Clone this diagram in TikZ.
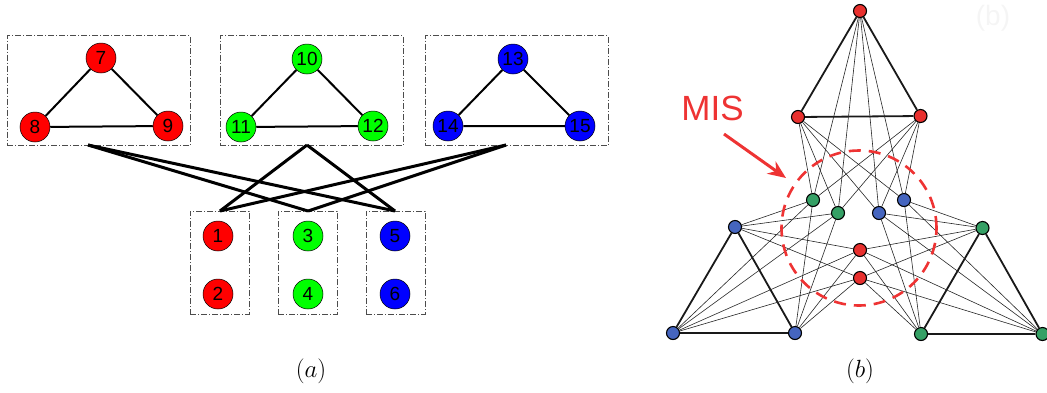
\documentclass[tikz,border=0pt]{standalone}
\usepackage{fontspec}
\newfontfamily\arialf{Liberation Sans}
\usetikzlibrary{arrows.meta}
\definecolor{nred}{HTML}{E8302E}
\definecolor{ngreen}{HTML}{35A065}
\definecolor{nblue}{HTML}{4565BF}
\definecolor{misred}{HTML}{EE3333}
\begin{document}
\begin{tikzpicture}[x=1pt,y=-1pt,
  grp/.style={draw=black!70, line width=0.9pt, dash pattern=on 6pt off 2pt on 1pt off 2pt, inner sep=0pt, rectangle},
  vnode/.style={circle, draw=black, line width=0.5pt, minimum size=30pt, inner sep=0pt, font=\arialf\fontsize{19}{19}\selectfont},
  tri/.style={line width=2pt, black},
  cross/.style={line width=3pt, black},
  snode/.style={circle, draw=black, line width=1.1pt, minimum size=13pt, inner sep=0pt},
  thick edge/.style={line width=1.8pt, black!90},
  thin edge/.style={line width=0.6pt, black!85},
  captext/.style={font=\fontsize{28}{28}\selectfont}
]
\useasboundingbox (0,0) rectangle (1047,392);

% ---------- panel (a) ----------
\node[grp, minimum width=183pt, minimum height=110pt] (gR) at (98.5,90.5) {};
\node[grp, minimum width=183pt, minimum height=110pt] (gG) at (311.5,90.5) {};
\node[grp, minimum width=183pt, minimum height=110pt] (gB) at (516.5,90.5) {};
\node[grp, minimum width=59pt, minimum height=103pt] (hR) at (219.5,262.5) {};
\node[grp, minimum width=59pt, minimum height=103pt] (hG) at (307.5,262.5) {};
\node[grp, minimum width=59pt, minimum height=103pt] (hB) at (395.5,262.5) {};

\node[vnode, fill=red] (n7) at (101,58) {7};
\node[vnode, fill=red] (n8) at (35,127) {8};
\node[vnode, fill=red] (n9) at (168,126) {9};
\node[vnode, fill=green] (n10) at (307,59) {10};
\node[vnode, fill=green] (n11) at (241,127) {11};
\node[vnode, fill=green] (n12) at (373,126) {12};
\node[vnode, fill=blue] (n13) at (513,59) {13};
\node[vnode, fill=blue] (n14) at (448,126) {14};
\node[vnode, fill=blue] (n15) at (580,126) {15};

\node[vnode, fill=red] (n1) at (218,236) {1};
\node[vnode, fill=red] (n2) at (218,294) {2};
\node[vnode, fill=green] (n3) at (308,236) {3};
\node[vnode, fill=green] (n4) at (308,294) {4};
\node[vnode, fill=blue] (n5) at (395,236) {5};
\node[vnode, fill=blue] (n6) at (395,294) {6};

\draw[tri] (n7) -- (n8) -- (n9) -- (n7);
\draw[tri] (n10) -- (n11) -- (n12) -- (n10);
\draw[tri] (n13) -- (n14) -- (n15) -- (n13);

\coordinate (oR) at (88,145);
\coordinate (oG) at (307,145);
\coordinate (oB) at (506,145);
\coordinate (iR) at (220,211);
\coordinate (iG) at (308,211);
\coordinate (iB) at (395,211);
\draw[cross] (oR) -- (iG);
\draw[cross] (oR) -- (iB);
\draw[cross] (oG) -- (iR);
\draw[cross] (oG) -- (iB);
\draw[cross] (oB) -- (iR);
\draw[cross] (oB) -- (iG);

\node[captext] (capa) at (311,371) {$(a)$};

% ---------- panel (b) ----------
\node[snode, fill=nred] (rt) at (860,11) {};
\node[snode, fill=nred] (rl) at (798,117) {};
\node[snode, fill=nred] (rr) at (920.5,116) {};
\node[snode, fill=nblue] (bt) at (735,227) {};
\node[snode, fill=nblue] (bl) at (673,333) {};
\node[snode, fill=nblue] (br) at (795,333) {};
\node[snode, fill=ngreen] (gt) at (982.5,228) {};
\node[snode, fill=ngreen] (gl) at (921,334) {};
\node[snode, fill=ngreen] (gr) at (1042.5,334) {};
\node[snode, fill=ngreen] (gi1) at (813,200) {};
\node[snode, fill=ngreen] (gi2) at (838,213) {};
\node[snode, fill=nblue] (bi1) at (879,213) {};
\node[snode, fill=nblue] (bi2) at (904,200) {};
\node[snode, fill=nred] (ri1) at (860,250) {};
\node[snode, fill=nred] (ri2) at (860,278) {};

\draw[thick edge] (rt) -- (rl) -- (rr) -- (rt);
\draw[thick edge] (bt) -- (bl) -- (br) -- (bt);
\draw[thick edge] (gt) -- (gl) -- (gr) -- (gt);
\foreach \a in {rt,rl,rr}{\foreach \b in {gi1,gi2,bi1,bi2}{\draw[thin edge] (\a) -- (\b);}}
\foreach \a in {bt,bl,br}{\foreach \b in {gi1,gi2,ri1,ri2}{\draw[thin edge] (\a) -- (\b);}}
\foreach \a in {gt,gl,gr}{\foreach \b in {ri1,ri2,bi1,bi2}{\draw[thin edge] (\a) -- (\b);}}

\node[draw=misred, line width=2.6pt, dash pattern=on 12pt off 8pt, circle, minimum size=155pt, inner sep=0pt] (mis) at (859,228) {};
\node[text=misred, font=\arialf\fontsize{35}{35}\selectfont] (mislabel) at (712.5,108) {MIS};
\coordinate (misfrom) at (724,134);
\coordinate (misto) at (786,178);
\draw[misred, line width=3pt, -{Stealth[length=18pt,width=15pt]}] (misfrom) -- (misto);

\node[captext] (capb) at (860,371) {$(b)$};
\node[text=black!4, font=\arialf\fontsize{28}{28}\selectfont] (ghost) at (993,18) {(b)};
\end{tikzpicture}
\end{document}
